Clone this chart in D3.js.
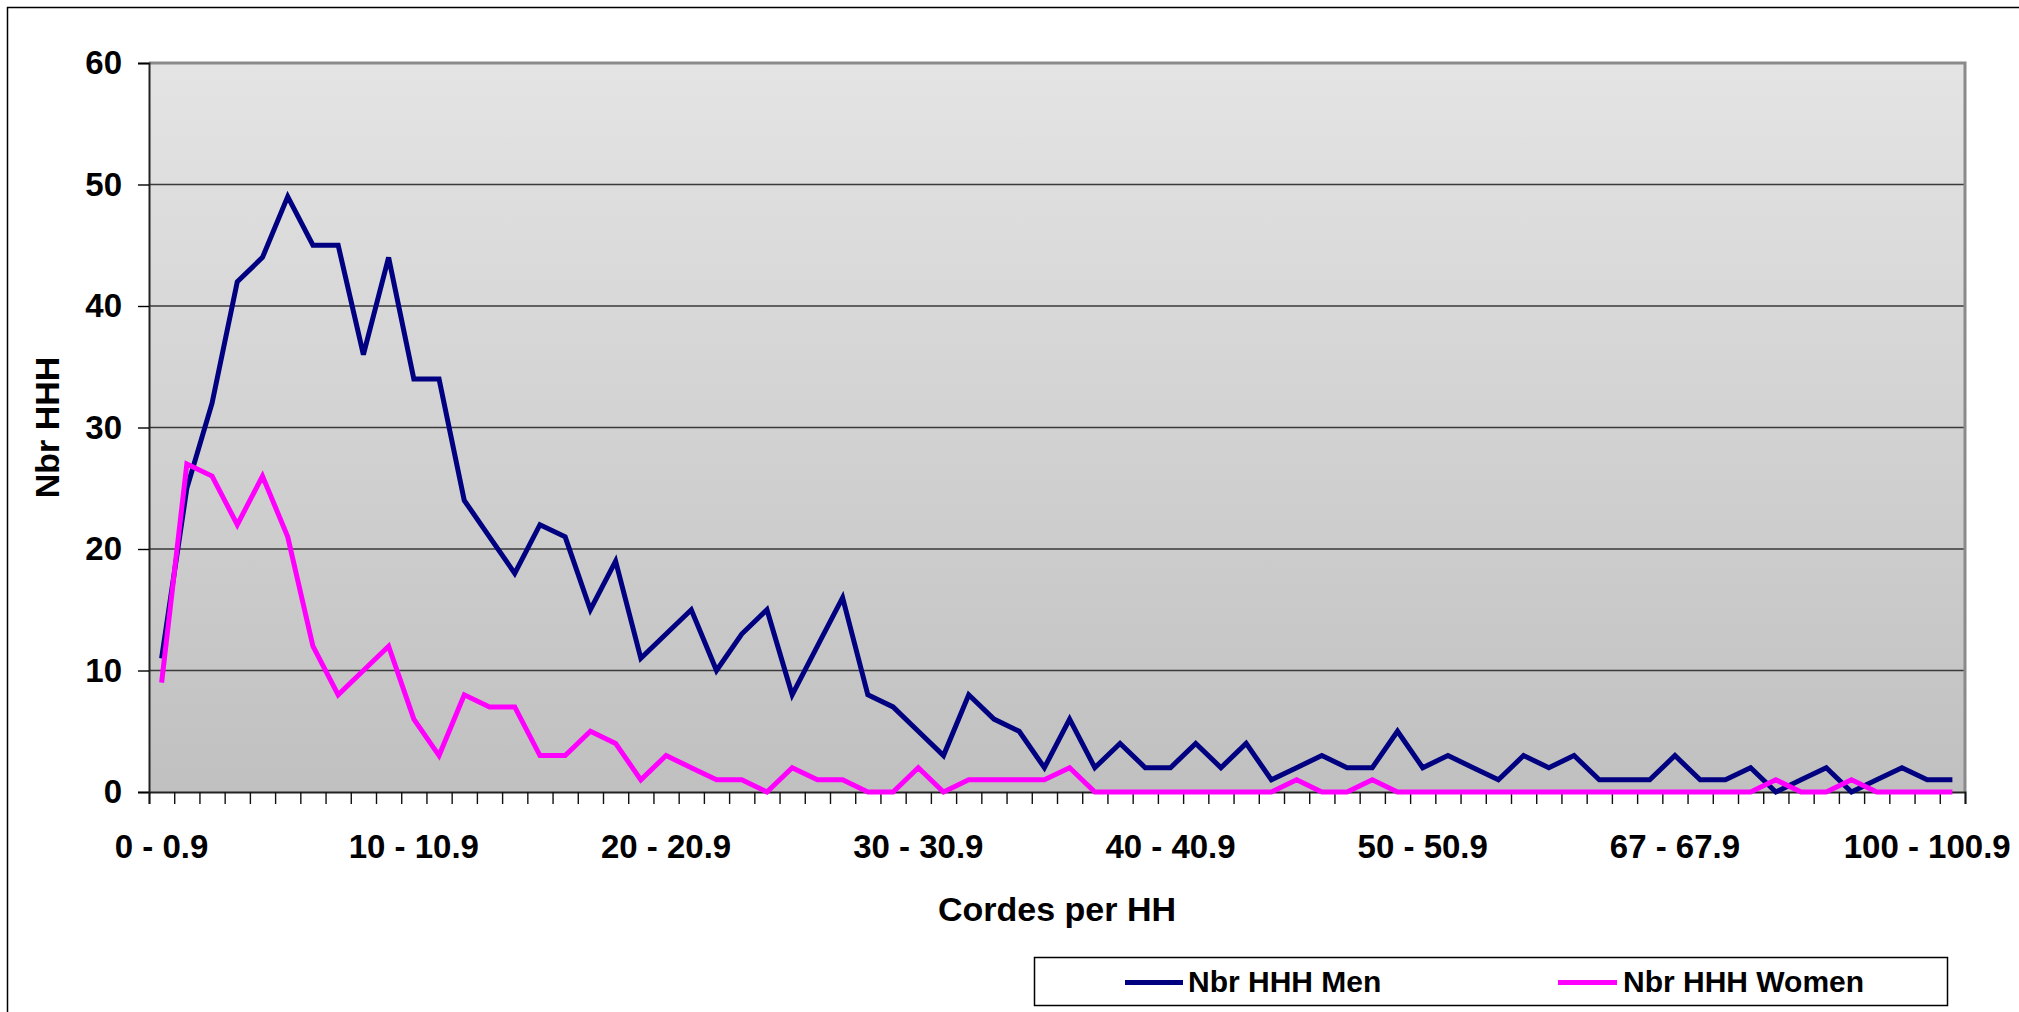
<!DOCTYPE html>
<html>
<head>
<meta charset="utf-8">
<script src="https://cdn.jsdelivr.net/npm/d3@7"></script>
<style>
  html, body { margin: 0; padding: 0; background: #ffffff; }
  svg { display: block; }
  text { font-family: "Liberation Sans", Arial, sans-serif; font-weight: bold; fill: #000; }
</style>
</head>
<body>
<svg id="chart" width="2019" height="1012"></svg>
<script>
// Ranges of cordes per household head (one category per range)
const categories = [
  "0 - 0.9", "1 - 1.9", "2 - 2.9", "3 - 3.9", "4 - 4.9", "5 - 5.9", "6 - 6.9", "7 - 7.9", "8 - 8.9", "9 - 9.9",
  "10 - 10.9", "11 - 11.9", "12 - 12.9", "13 - 13.9", "14 - 14.9", "15 - 15.9", "16 - 16.9", "17 - 17.9", "18 - 18.9", "19 - 19.9",
  "20 - 20.9", "21 - 21.9", "22 - 22.9", "23 - 23.9", "24 - 24.9", "25 - 25.9", "26 - 26.9", "27 - 27.9", "28 - 28.9", "29 - 29.9",
  "30 - 30.9", "31 - 31.9", "32 - 32.9", "33 - 33.9", "34 - 34.9", "35 - 35.9", "36 - 36.9", "37 - 37.9", "38 - 38.9", "39 - 39.9",
  "40 - 40.9", "41 - 41.9", "42 - 42.9", "43 - 43.9", "44 - 44.9", "45 - 45.9", "46 - 46.9", "47 - 47.9", "48 - 48.9", "49 - 49.9",
  "50 - 50.9", "51 - 51.9", "52 - 52.9", "53 - 53.9", "54 - 54.9", "55 - 55.9", "57 - 57.9", "60 - 60.9", "62 - 62.9", "65 - 65.9",
  "67 - 67.9", "68 - 68.9", "70 - 70.9", "72 - 72.9", "75 - 75.9", "77 - 77.9", "80 - 80.9", "85 - 85.9", "90 - 90.9", "95 - 95.9",
  "100 - 100.9", "120 - 120.9"
];

// Number of household heads that are men, per range
const menValues = [
  11, 25, 32, 42, 44, 49, 45, 45, 36, 44,
  34, 34, 24, 21, 18, 22, 21, 15, 19, 11,
  13, 15, 10, 13, 15, 8, 12, 16, 8, 7,
  5, 3, 8, 6, 5, 2, 6, 2, 4, 2,
  2, 4, 2, 4, 1, 2, 3, 2, 2, 5,
  2, 3, 2, 1, 3, 2, 3, 1, 1, 1,
  3, 1, 1, 2, 0, 1, 2, 0, 1, 2,
  1, 1
];

// Number of household heads that are women, per range
const womenValues = [
  9, 27, 26, 22, 26, 21, 12, 8, 10, 12,
  6, 3, 8, 7, 7, 3, 3, 5, 4, 1,
  3, 2, 1, 1, 0, 2, 1, 1, 0, 0,
  2, 0, 1, 1, 1, 1, 2, 0, 0, 0,
  0, 0, 0, 0, 0, 1, 0, 0, 1, 0,
  0, 0, 0, 0, 0, 0, 0, 0, 0, 0,
  0, 0, 0, 0, 1, 0, 0, 1, 0, 0,
  0, 0
];

const seriesNames = ["Nbr HHH Men", "Nbr HHH Women"];
const seriesColors = ["#000080", "#ff00ff"];
const yTicks = [0, 10, 20, 30, 40, 50, 60];
const labelEvery = 10;
const xTitle = "Cordes per HH";
const yTitle = "Nbr HHH";

const svg = d3.select("#chart");
const plot = { left: 149, top: 63, right: 1965, bottom: 792 };

// Outer chart frame
svg.append("rect")
  .attr("x", 7.5).attr("y", 7.5)
  .attr("width", 2040).attr("height", 1040)
  .attr("fill", "#ffffff")
  .attr("stroke", "#000").attr("stroke-width", 1.5);

// Plot area background: light gray fading to darker gray
const defs = svg.append("defs");
const grad = defs.append("linearGradient")
  .attr("id", "plotBg").attr("x1", 0).attr("y1", 0).attr("x2", 0).attr("y2", 1);
grad.append("stop").attr("offset", "0%").attr("stop-color", "#e4e4e4");
grad.append("stop").attr("offset", "100%").attr("stop-color", "#c0c0c0");

svg.append("rect")
  .attr("x", plot.left).attr("y", plot.top)
  .attr("width", plot.right - plot.left).attr("height", plot.bottom - plot.top)
  .attr("fill", "url(#plotBg)");

// Scales
const x = d3.scaleBand().domain(categories).range([plot.left, plot.right]).padding(0);
const xEdges = d3.scaleLinear().domain([0, categories.length]).range([plot.left, plot.right]);
const y = d3.scaleLinear().domain([0, 60]).range([plot.bottom, plot.top]);

// Horizontal gridlines
svg.append("g")
  .selectAll("line")
  .data(yTicks.filter(d => d > 0 && d < 60))
  .join("line")
  .attr("x1", plot.left).attr("x2", plot.right)
  .attr("y1", d => y(d)).attr("y2", d => y(d))
  .attr("stroke", "#3a3a3a").attr("stroke-width", 1.4);

// Top and right borders of the plot area
svg.append("path")
  .attr("d", `M${plot.left},${plot.top}H${plot.right}V${plot.bottom}`)
  .attr("fill", "none").attr("stroke", "#8a8a8a").attr("stroke-width", 3);

// Y axis
const yAxis = svg.append("g")
  .attr("transform", `translate(${plot.left},0)`)
  .call(d3.axisLeft(y).tickValues(yTicks).tickSize(11).tickPadding(16).tickFormat(d3.format("d")));
yAxis.select(".domain").attr("stroke", "#222").attr("stroke-width", 2);
yAxis.selectAll(".tick line").attr("stroke", "#000").attr("stroke-width", 1.4);
yAxis.selectAll(".tick text")
  .attr("font-size", 33).attr("font-family", "'Liberation Sans', Arial, sans-serif")
  .attr("font-weight", "bold").attr("fill", "#000");

// X axis: a tick at every category boundary
const xTickAxis = svg.append("g")
  .attr("transform", `translate(0,${plot.bottom})`)
  .call(d3.axisBottom(xEdges).tickValues(d3.range(categories.length + 1)).tickSize(12).tickFormat(""));
xTickAxis.select(".domain").attr("stroke", "#222").attr("stroke-width", 2);
xTickAxis.selectAll(".tick line").attr("stroke", "#111").attr("stroke-width", 1.4);

// X axis labels on every tenth category
const xLabelAxis = svg.append("g")
  .attr("transform", `translate(0,${plot.bottom})`)
  .call(d3.axisBottom(x)
    .tickValues(categories.filter((c, i) => i % labelEvery === 0))
    .tickSize(0).tickPadding(43));
xLabelAxis.select(".domain").remove();
xLabelAxis.selectAll(".tick text")
  .attr("font-size", 33).attr("font-family", "'Liberation Sans', Arial, sans-serif")
  .attr("font-weight", "bold").attr("fill", "#000");

// Series lines
const series = [menValues, womenValues];
const line = d3.line()
  .x((d, i) => x(categories[i]) + x.bandwidth() / 2)
  .y(d => y(d));

series.forEach((vals, k) => {
  svg.append("path")
    .datum(vals)
    .attr("d", line)
    .attr("fill", "none")
    .attr("stroke", seriesColors[k])
    .attr("stroke-width", 5)
    .attr("stroke-linejoin", "miter")
    .attr("stroke-miterlimit", 3)
    .attr("stroke-linecap", "butt");
});

// Axis titles
svg.append("text")
  .attr("x", (plot.left + plot.right) / 2).attr("y", 921)
  .attr("text-anchor", "middle").attr("font-size", 34)
  .text(xTitle);

svg.append("text")
  .attr("transform", `translate(59,${(plot.top + plot.bottom) / 2}) rotate(-90)`)
  .attr("text-anchor", "middle").attr("font-size", 34)
  .text(yTitle);

// Legend
const legend = svg.append("g");
legend.append("rect")
  .attr("x", 1034.5).attr("y", 957.5).attr("width", 913).attr("height", 48)
  .attr("fill", "#ffffff").attr("stroke", "#000").attr("stroke-width", 1.5);

const legendItems = [
  { x0: 1125, x1: 1183, tx: 1188 },
  { x0: 1558, x1: 1617, tx: 1623 }
];
legendItems.forEach((p, k) => {
  legend.append("line")
    .attr("x1", p.x0).attr("x2", p.x1).attr("y1", 982.5).attr("y2", 982.5)
    .attr("stroke", seriesColors[k]).attr("stroke-width", 5);
  legend.append("text")
    .attr("x", p.tx).attr("y", 992)
    .attr("font-size", 30)
    .text(seriesNames[k]);
});
</script>
</body>
</html>
